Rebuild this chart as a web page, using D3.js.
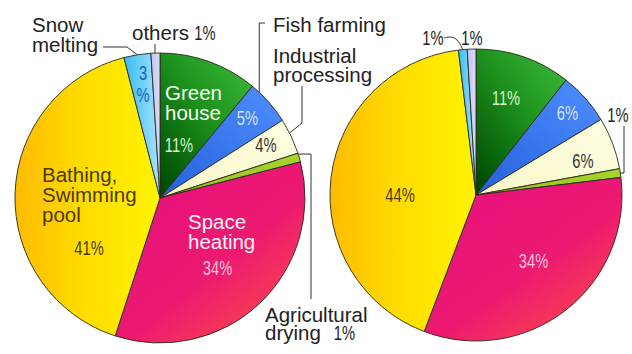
<!DOCTYPE html>
<html>
<head>
<meta charset="utf-8">
<script src="https://cdn.jsdelivr.net/npm/d3@7"></script>
<style>
  html, body { margin: 0; padding: 0; background: #fff; }
  svg { display: block; }
</style>
</head>
<body>
<svg id="chart" width="632" height="354"></svg>
<script>
// Uses of geothermal heat (direct use), shares in percent
const uses = [
  "Green house", "Fish farming", "Industrial processing", "Agricultural drying",
  "Space heating", "Bathing, Swimming pool", "Snow melting", "others"
];
const sharesLeft = [11, 5, 4, 1, 34, 41, 3, 1];
const sharesRight = [11, 6, 6, 1, 34, 44, 1, 1];

const svg = d3.select("#chart");
const labelFont = "'Liberation Sans', Arial, Helvetica, sans-serif";
const numFont = "'Liberation Sans', Arial, sans-serif";

// ---- gradients for the slices ----
const defs = svg.append("defs");
const gradients = [
  { id: "g-green",  x1: 1, y1: 0, x2: 0.1, y2: 1, stops: [[0, "#3dbb3d"], [0.45, "#1f951f"], [1, "#004a00"]] },
  { id: "g-blue",   x1: 1, y1: 0, x2: 0, y2: 1,   stops: [[0, "#4f8fff"], [1, "#2560dc"]] },
  { id: "g-cream",  x1: 1, y1: 0, x2: 0, y2: 1,   stops: [[0, "#ffffe4"], [1, "#f7f6c6"]] },
  { id: "g-lime",   x1: 0, y1: 0, x2: 1, y2: 0,   stops: [[0, "#8fc21a"], [1, "#a6d42a"]] },
  { id: "g-pink",   x1: 0.1, y1: 0, x2: 0.95, y2: 1, stops: [[0, "#e50f80"], [0.55, "#ec1a70"], [0.8, "#f63858"], [1, "#ff6a2c"]] },
  { id: "g-yellow", x1: 0, y1: 0, x2: 1, y2: 0,   stops: [[0, "#ffbb00"], [0.45, "#ffdb00"], [1, "#fff400"]] },
  { id: "g-sky",    x1: 0, y1: 0, x2: 1, y2: 0,   stops: [[0, "#35bdf2"], [1, "#a8e2ff"]] },
  { id: "g-lav",    x1: 0, y1: 0, x2: 1, y2: 0,   stops: [[0, "#c2c2ee"], [1, "#dcdcfa"]] }
];
gradients.forEach(g => {
  const lg = defs.append("linearGradient").attr("id", g.id)
    .attr("x1", g.x1).attr("y1", g.y1).attr("x2", g.x2).attr("y2", g.y2);
  g.stops.forEach(s => lg.append("stop").attr("offset", s[0]).attr("stop-color", s[1]));
});
const fillFor = d3.scaleOrdinal().domain(uses).range(gradients.map(g => `url(#${g.id})`));

// ---- pies ----
const pies = [
  { values: sharesLeft,  cx: 160, cy: 198, r: 145 },
  { values: sharesRight, cx: 476, cy: 195, r: 146 }
];
const pieGen = d3.pie().sort(null).value(d => d.value);

pies.forEach(p => {
  p.slices = pieGen(uses.map((u, i) => ({ use: u, value: p.values[i] })));
  p.arc = d3.arc().innerRadius(0).outerRadius(p.r);
  p.g = svg.append("g").attr("transform", `translate(${p.cx},${p.cy})`);
  p.g.selectAll("path.slice").data(p.slices).join("path")
    .attr("class", "slice")
    .attr("d", p.arc)
    .attr("fill", d => fillFor(d.data.use))
    .attr("stroke", "#2a2a1a")
    .attr("stroke-width", 0.9)
    .attr("stroke-linejoin", "round");
  // rim point of slice i at fraction t of its angular span (pie-local coords)
  p.rim = (i, t) => {
    const s = p.slices[i];
    const a = s.startAngle + t * (s.endAngle - s.startAngle);
    return [p.r * Math.sin(a), -p.r * Math.cos(a)];
  };
});

// narrow percentage figure (glyphs squeezed to 70% of their natural width)
function pct(g, x, y, txt, color, anchor = "middle") {
  const t = g.append("text")
    .attr("x", x).attr("y", y)
    .attr("text-anchor", anchor)
    .attr("font-family", numFont)
    .attr("font-size", 21)
    .attr("fill", color)
    .text(txt);
  const w = t.node().getComputedTextLength();
  t.attr("textLength", (w * 0.7).toFixed(1)).attr("lengthAdjust", "spacingAndGlyphs");
}
function lines(g, x, y0, step, arr, color, size = 20.5) {
  const t = g.append("text")
    .attr("font-family", labelFont)
    .attr("font-size", size)
    .attr("fill", color);
  arr.forEach((s, k) => t.append("tspan").attr("x", x).attr("y", y0 + k * step).text(s));
}
function leader(g, pts, curve = d3.curveLinear) {
  g.append("path")
    .attr("d", d3.line().curve(curve)(pts))
    .attr("fill", "none")
    .attr("stroke", "#333")
    .attr("stroke-width", 1);
}

// ---- left pie annotations ----
const L = pies[0], gl = L.g;
const vL = i => `${L.values[i]}%`;

lines(gl, 5, -98, 20, ["Green", "house"], "#f4fff2");
pct(gl, 19, -46, vL(0), "#d6f3cc");
pct(gl, 87.5, -73, vL(1), "#d2e2ff");
pct(gl, 106, -46, vL(2), "#333333");
lines(gl, 28, 31, 20, ["Space", "heating"], "#fff2f7");
pct(gl, 57.5, 77, vL(4), "#ffc4dc");
lines(gl, -118, -16, 20, ["Bathing,", "Swimming", "pool"], "#4a3a00");
pct(gl, -71, 57, vL(5), "#4a3a00");
pct(gl, -17, -118, String(L.values[6]), "#1a60b8");
pct(gl, -17, -96, "%", "#1a60b8");

// outside names with leaders
lines(gl, -128, -166, 20, ["Snow", "melting"], "#222");
leader(gl, [[-57, -151], [-33, -151], L.rim(6, 0.5)]);

lines(gl, -28, -158, 20, ["others"], "#222");
pct(gl, 45, -158, vL(7), "#222");
const oRim = L.rim(7, 0.45);
leader(gl, [[oRim[0], -154], oRim]);

lines(gl, 113, -166, 20, ["Fish farming"], "#222");
const fRim = L.rim(1, 0.2);
leader(gl, [[105, -175], [fRim[0], -175], fRim]);

lines(gl, 113, -135, 19, ["Industrial", "processing"], "#222");
leader(gl, [[142, -112], [142, -75], L.rim(2, 0.4)]);

lines(gl, 105, 124, 18, ["Agricultural", "drying"], "#222");
pct(gl, 184.5, 142, vL(3), "#222");
const aRim = L.rim(3, 0.1);
leader(gl, [aRim, [151, aRim[1]], [151, 101]]);

// ---- right pie annotations ----
const R = pies[1], gr = R.g;
const vR = i => `${R.values[i]}%`;

pct(gr, 30, -90, vR(0), "#d6f3cc");
pct(gr, 91.5, -75, vR(1), "#d2e2ff");
pct(gr, 107, -27, vR(2), "#333333");
pct(gr, 57.5, 73, vR(4), "#ffc4dc");
pct(gr, -76, 7, vR(5), "#4a3a00");

pct(gr, -43, -150, vR(6), "#222");
leader(gr, [[-32, -157], [-24, -159], [-17, -154], R.rim(6, 0.5)], d3.curveBasis);
pct(gr, -4, -150, vR(7), "#222");
const lvRim = R.rim(7, 0.5);
leader(gr, [[lvRim[0], -146], lvRim]);

pct(gr, 142, -73, vR(3), "#222");
const limeRim = R.rim(3, 0.5);
leader(gr, [[148, -69], [148, limeRim[1]], limeRim]);
</script>
</body>
</html>
